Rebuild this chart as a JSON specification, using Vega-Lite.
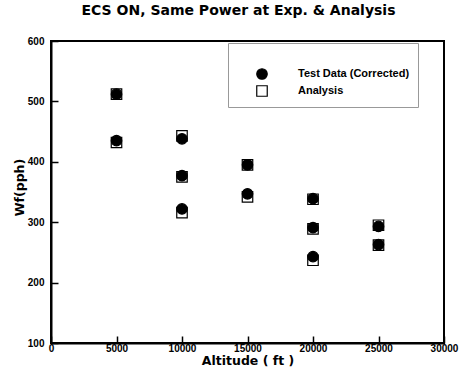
{
  "$schema": "https://vega.github.io/schema/vega-lite/v6.json",
  "width": 393,
  "height": 302,
  "autosize": {"type": "none"},
  "padding": {"left": 51, "top": 41, "right": 21, "bottom": 31},
  "background": "white",
  "title": {
    "text": "ECS ON,  Same Power at Exp. & Analysis",
    "font": "DejaVu Sans",
    "fontSize": 14,
    "fontWeight": "bold",
    "color": "black",
    "anchor": "middle",
    "frame": "group",
    "dx": -9,
    "offset": 18
  },
  "config": {
    "view": {"stroke": "black", "strokeWidth": 2},
    "axis": {
      "domainColor": "black",
      "domainWidth": 2,
      "tickColor": "black",
      "tickWidth": 1.5,
      "labelColor": "black",
      "labelFont": "Liberation Sans",
      "labelFontWeight": "bold",
      "labelFontSize": 10,
      "titleFont": "DejaVu Sans",
      "titleFontWeight": "bold",
      "titleFontSize": 12.5,
      "titleColor": "black",
      "grid": false
    },
    "legend": {
      "orient": "none",
      "legendX": 177,
      "legendY": 2,
      "padding": 8,
      "strokeColor": "#999",
      "strokeWidth": 1,
      "titleFontSize": 10,
      "titlePadding": 7,
      "labelFont": "Liberation Sans",
      "labelFontWeight": "bold",
      "labelFontSize": 11,
      "labelColor": "black",
      "labelOffset": 30,
      "symbolOffset": 20,
      "rowPadding": 1,
      "symbolSize": 110,
      "symbolStrokeColor": "black",
      "symbolStrokeWidth": 1.2
    }
  },
  "data": {
    "values": [
      {"altitude": 5000, "wf": 512, "series": "Analysis"},
      {"altitude": 5000, "wf": 432, "series": "Analysis"},
      {"altitude": 10000, "wf": 443, "series": "Analysis"},
      {"altitude": 10000, "wf": 375, "series": "Analysis"},
      {"altitude": 10000, "wf": 316, "series": "Analysis"},
      {"altitude": 15000, "wf": 395, "series": "Analysis"},
      {"altitude": 15000, "wf": 342, "series": "Analysis"},
      {"altitude": 20000, "wf": 338, "series": "Analysis"},
      {"altitude": 20000, "wf": 289, "series": "Analysis"},
      {"altitude": 20000, "wf": 237, "series": "Analysis"},
      {"altitude": 25000, "wf": 295, "series": "Analysis"},
      {"altitude": 25000, "wf": 262, "series": "Analysis"},
      {"altitude": 5000, "wf": 512, "series": "Test Data (Corrected)"},
      {"altitude": 5000, "wf": 435, "series": "Test Data (Corrected)"},
      {"altitude": 10000, "wf": 438, "series": "Test Data (Corrected)"},
      {"altitude": 10000, "wf": 377, "series": "Test Data (Corrected)"},
      {"altitude": 10000, "wf": 322, "series": "Test Data (Corrected)"},
      {"altitude": 15000, "wf": 395, "series": "Test Data (Corrected)"},
      {"altitude": 15000, "wf": 347, "series": "Test Data (Corrected)"},
      {"altitude": 20000, "wf": 339, "series": "Test Data (Corrected)"},
      {"altitude": 20000, "wf": 291, "series": "Test Data (Corrected)"},
      {"altitude": 20000, "wf": 243, "series": "Test Data (Corrected)"},
      {"altitude": 25000, "wf": 293, "series": "Test Data (Corrected)"},
      {"altitude": 25000, "wf": 263, "series": "Test Data (Corrected)"}
    ]
  },
  "mark": {"type": "point", "filled": true, "strokeWidth": 1.2, "opacity": 1, "size": 110},
  "encoding": {
    "x": {
      "field": "altitude",
      "type": "quantitative",
      "scale": {"domain": [0, 30000], "nice": false},
      "axis": {
        "title": "Altitude ( ft )",
        "values": [0, 5000, 10000, 15000, 20000, 25000, 30000],
        "format": "d",
        "tickSize": -7,
        "labelPadding": 7,
        "labelFlush": false,
        "titleY": 17,
        "titleAlign": "center",
        "titleBaseline": "middle"
      }
    },
    "y": {
      "field": "wf",
      "type": "quantitative",
      "scale": {"domain": [100, 600], "nice": false},
      "axis": {
        "title": "Wf(pph)",
        "values": [100, 200, 300, 400, 500, 600],
        "tickSize": -7,
        "labelPadding": 14,
        "labelFlush": false,
        "titleX": -32,
        "titleY": 146,
        "titleAlign": "center",
        "titleBaseline": "middle"
      }
    },
    "shape": {
      "field": "series",
      "type": "nominal",
      "title": " ",
      "scale": {"domain": ["Test Data (Corrected)", "Analysis"], "range": ["circle", "square"]}
    },
    "fill": {
      "field": "series",
      "type": "nominal",
      "title": " ",
      "scale": {"domain": ["Test Data (Corrected)", "Analysis"], "range": ["black", "white"]}
    },
    "stroke": {
      "field": "series",
      "type": "nominal",
      "title": " ",
      "scale": {"domain": ["Test Data (Corrected)", "Analysis"], "range": ["black", "black"]}
    }
  }
}
